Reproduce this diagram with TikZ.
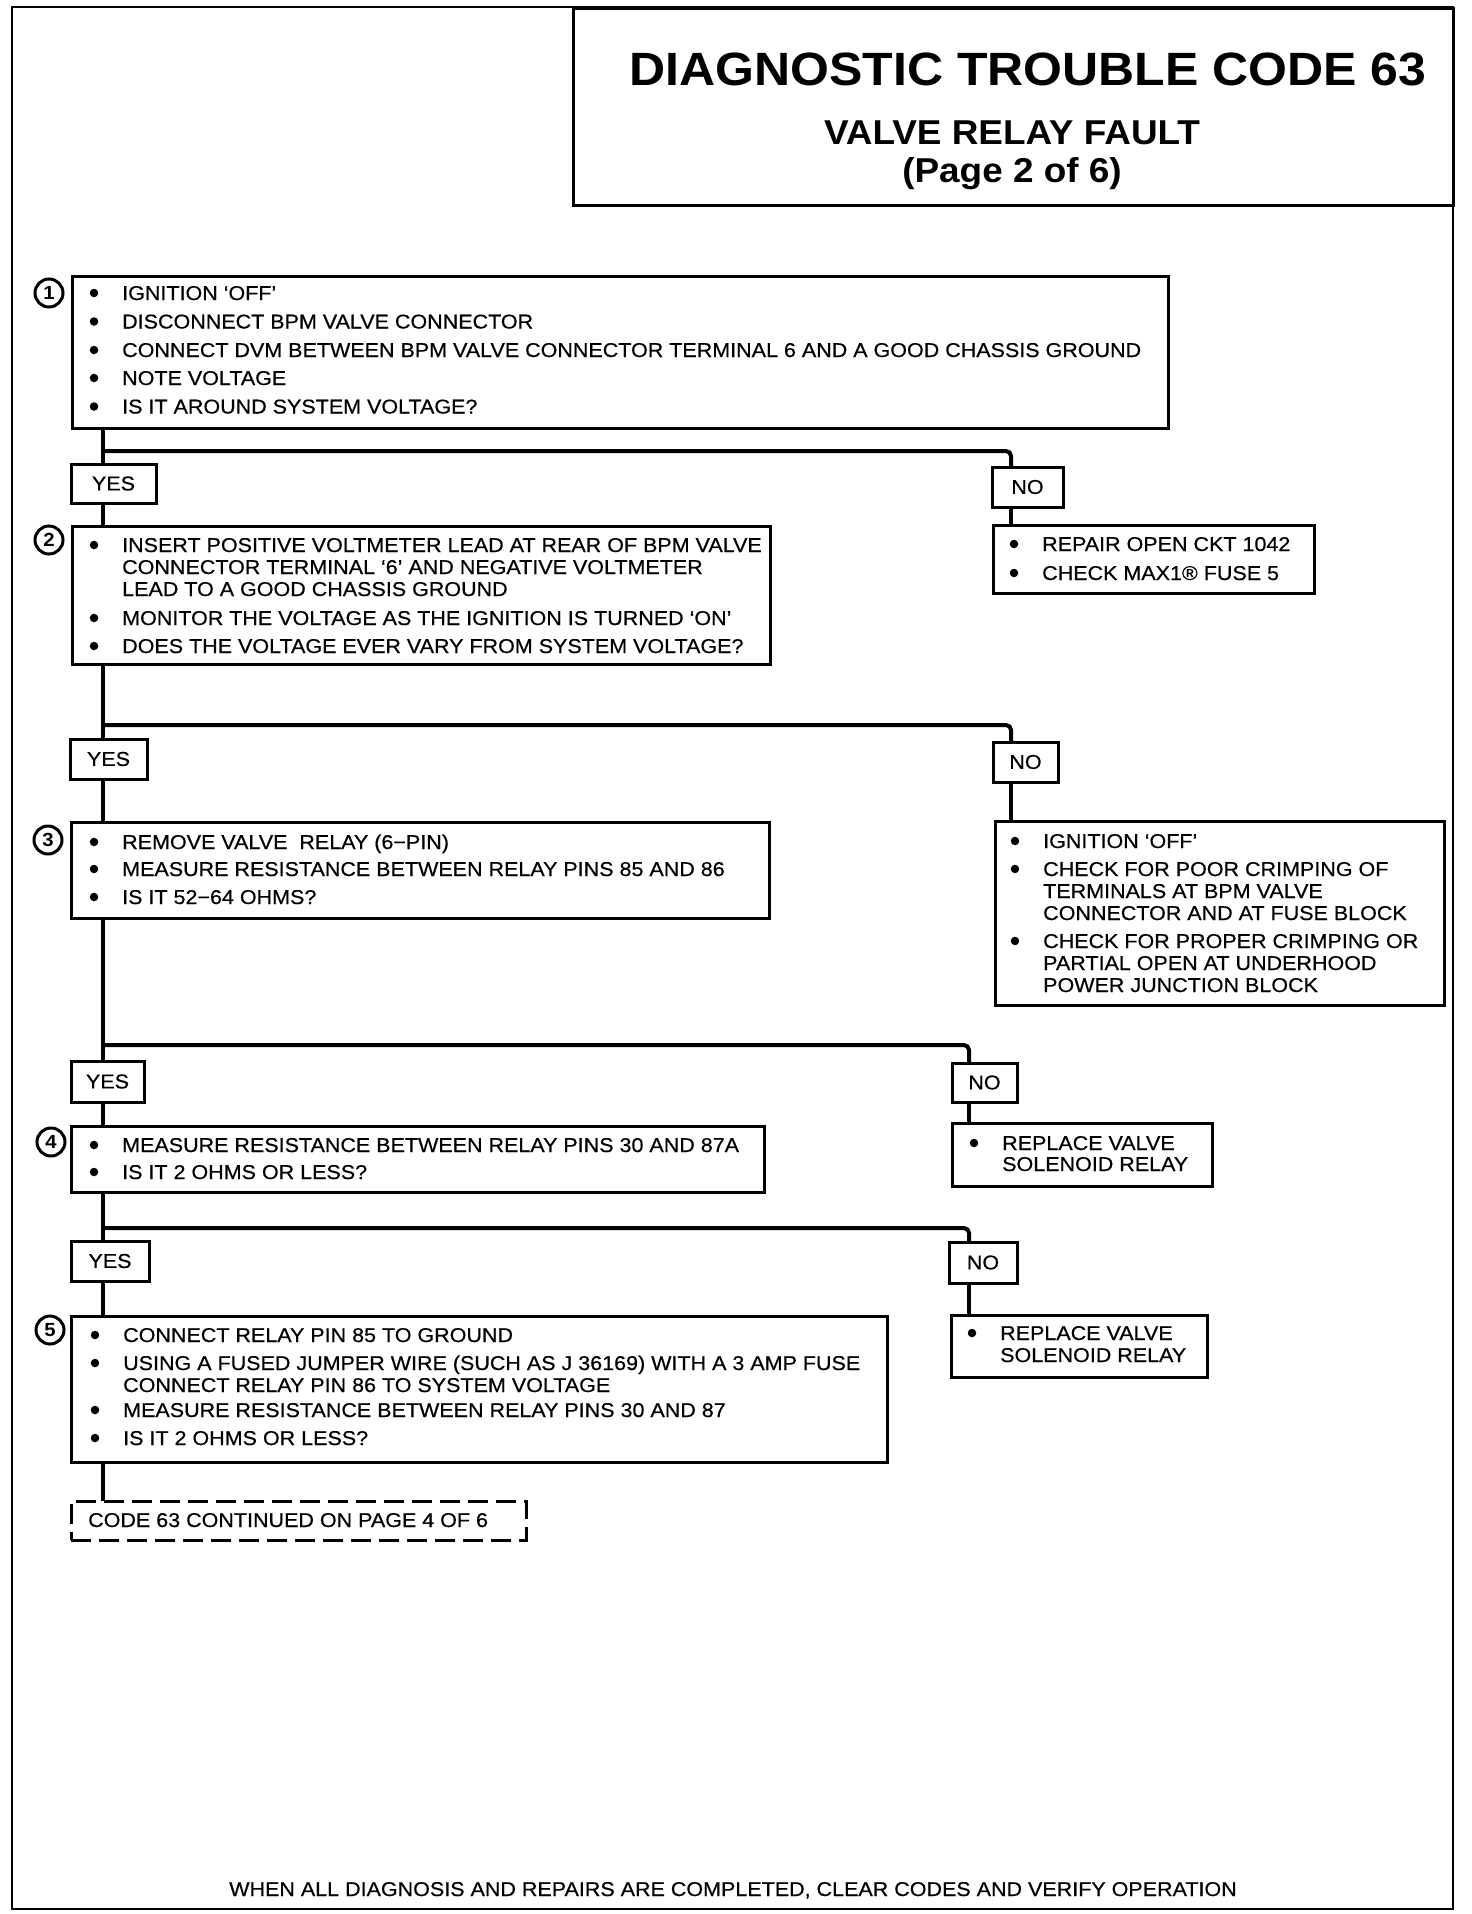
\documentclass[tikz,border=0pt]{standalone}
\usepackage{fontspec}
\setmainfont{Liberation Sans}[FakeStretch=1.07]
\newfontfamily\bodyf{Liberation Sans}[FakeStretch=1.075, FakeBold=0.5]
\tikzset{
  box/.style={draw, line width=3pt, fill=white, inner sep=0pt, outer sep=0pt, anchor=north west, font=\bodyf\fontsize{20}{22}\selectfont},
  dbox/.style={box, dash pattern=on 20pt off 8pt},
  frm/.style={draw, line width=2.5pt, inner sep=0pt, outer sep=0pt, anchor=north west},
  txt/.style={inner sep=0pt, anchor=base west, font=\bodyf\fontsize{20}{22}\selectfont},
  ttl/.style={inner sep=0pt, anchor=base, font=\bfseries\fontsize{46.7}{50}\selectfont},
  sub/.style={inner sep=0pt, anchor=base, font=\bfseries\fontsize{34.5}{38}\selectfont},
  bul/.style={circle, fill=black, inner sep=0pt, minimum size=8.5pt},
  num/.style={circle, draw, fill=white, line width=3pt, inner sep=0pt, minimum size=28pt, font=\bfseries\fontsize{19}{19}\selectfont},
  wire/.style={line width=4pt},
}
\newcommand\bx[7][box]{\node[#1, minimum width={(#5)-(#3)}, minimum height={(#6)-(#4)}] (#2) at (#3,#4) {#7};}
\newcommand\itm[4]{\node[bul] (#1b) at (#2-28,#3) {}; \node[txt] (#1) at (#2,#3+7) {#4};}
\newcommand\cnt[4]{\node[txt] (#1) at (#2,#3+7) {#4};}
\begin{document}
\begin{tikzpicture}[x=1pt,y=-1pt]
\useasboundingbox (0,0) rectangle (1472,1914);
% frame and title
\bx[frm]{frame}{12}{7}{1453}{1909}{}
\bx{tbox}{573}{8}{1453}{205}{}
\node[ttl] (title) at (1028,85) {DIAGNOSTIC TROUBLE CODE 63};
\node[sub] (sub1) at (1012,144) {VALVE RELAY FAULT};
\node[sub] (sub2) at (1012,182) {(Page 2 of 6)};
% columns of the connectors
\coordinate (T) at (103,0);
\coordinate (NA) at (1011,0);
\coordinate (NB) at (969,0);
% main boxes
\bx{b1}{72}{276}{1168}{428}{}
\bx{b2}{72}{526}{770}{664}{}
\bx{b3}{71}{822}{769}{918}{}
\bx{b4}{71}{1126}{764}{1192}{}
\bx{b5}{71}{1316}{887}{1462}{}
\bx[dbox]{cont}{71}{1501}{526}{1540}{}
% yes / no labels
\bx{y1}{71}{464}{156}{503}{YES}
\bx{y2}{70}{739}{147}{779}{YES}
\bx{y3}{71}{1061}{144}{1102}{YES}
\bx{y4}{71}{1241}{149}{1281}{YES}
\bx{n1}{992}{467}{1063}{507}{NO}
\bx{n2}{993}{742}{1058}{782}{NO}
\bx{n3}{952}{1063}{1017}{1102}{NO}
\bx{n4}{949}{1242}{1017}{1283}{NO}
% result boxes
\bx{r1}{993}{525}{1314}{593}{}
\bx{r2}{995}{821}{1444}{1005}{}
\bx{r3}{952}{1123}{1212}{1186}{}
\bx{r4}{951}{1315}{1207}{1377}{}
% junctions
\coordinate (J1) at (103,451);
\coordinate (J2) at (103,725);
\coordinate (J3) at (103,1045);
\coordinate (J4) at (103,1228);
% trunk
\draw[wire] (b1.south -| T) -- (y1.north -| T);
\draw[wire] (y1.south -| T) -- (b2.north -| T);
\draw[wire] (b2.south -| T) -- (y2.north -| T);
\draw[wire] (y2.south -| T) -- (b3.north -| T);
\draw[wire] (b3.south -| T) -- (y3.north -| T);
\draw[wire] (y3.south -| T) -- (b4.north -| T);
\draw[wire] (b4.south -| T) -- (y4.north -| T);
\draw[wire] (y4.south -| T) -- (b5.north -| T);
\draw[wire, line width=3.5pt] (b5.south -| T) -- (cont.north -| T);
% branches to NO
\draw[wire, rounded corners=5pt] (J1) -| (n1.north -| NA);
\draw[wire] (n1.south -| NA) -- (r1.north -| NA);
\draw[wire, rounded corners=5pt] (J2) -| (n2.north -| NA);
\draw[wire] (n2.south -| NA) -- (r2.north -| NA);
\draw[wire, rounded corners=5pt] (J3) -| (n3.north -| NB);
\draw[wire] (n3.south -| NB) -- (r3.north -| NB);
\draw[wire, rounded corners=5pt] (J4) -| (n4.north -| NB);
\draw[wire] (n4.south -| NB) -- (r4.north -| NB);
% step numbers
\node[num] (c1) at (49,293) {1};
\node[num] (c2) at (49,540) {2};
\node[num] (c3) at (48,840) {3};
\node[num] (c4) at (51,1142) {4};
\node[num] (c5) at (50,1330) {5};
% box 1
\itm{t1a}{122}{293}{IGNITION ‘OFF’}
\itm{t1b}{122}{321.5}{DISCONNECT BPM VALVE CONNECTOR}
\itm{t1c}{122}{350}{CONNECT DVM BETWEEN BPM VALVE CONNECTOR TERMINAL 6 AND A GOOD CHASSIS GROUND}
\itm{t1d}{122}{378}{NOTE VOLTAGE}
\itm{t1e}{122}{406.5}{IS IT AROUND SYSTEM VOLTAGE?}
% result 1
\itm{s1a}{1042}{544}{REPAIR OPEN CKT 1042}
\itm{s1b}{1042}{573}{CHECK MAX1® FUSE 5}
% box 2
\itm{t2a}{122}{545}{INSERT POSITIVE VOLTMETER LEAD AT REAR OF BPM VALVE}
\cnt{t2b}{122}{567}{CONNECTOR TERMINAL ‘6’ AND NEGATIVE VOLTMETER}
\cnt{t2c}{122}{589}{LEAD TO A GOOD CHASSIS GROUND}
\itm{t2d}{122}{618}{MONITOR THE VOLTAGE AS THE IGNITION IS TURNED ‘ON’}
\itm{t2e}{122}{646}{DOES THE VOLTAGE EVER VARY FROM SYSTEM VOLTAGE?}
% result 2
\itm{s2a}{1043}{841}{IGNITION ‘OFF’}
\itm{s2b}{1043}{869}{CHECK FOR POOR CRIMPING OF}
\cnt{s2c}{1043}{891}{TERMINALS AT BPM VALVE}
\cnt{s2d}{1043}{913}{CONNECTOR AND AT FUSE BLOCK}
\itm{s2e}{1043}{941}{CHECK FOR PROPER CRIMPING OR}
\cnt{s2f}{1043}{963}{PARTIAL OPEN AT UNDERHOOD}
\cnt{s2g}{1043}{985}{POWER JUNCTION BLOCK}
% box 3
\itm{t3a}{122}{842}{REMOVE VALVE \ RELAY (6−PIN)}
\itm{t3b}{122}{869}{MEASURE RESISTANCE BETWEEN RELAY PINS 85 AND 86}
\itm{t3c}{122}{897}{IS IT 52−64 OHMS?}
% result 3
\itm{s3a}{1002}{1143}{REPLACE VALVE}
\cnt{s3b}{1002}{1164}{SOLENOID RELAY}
% box 4
\itm{t4a}{122}{1145}{MEASURE RESISTANCE BETWEEN RELAY PINS 30 AND 87A}
\itm{t4b}{122}{1172}{IS IT 2 OHMS OR LESS?}
% result 4
\itm{s4a}{1000}{1333}{REPLACE VALVE}
\cnt{s4b}{1000}{1355}{SOLENOID RELAY}
% box 5
\itm{t5a}{123}{1335}{CONNECT RELAY PIN 85 TO GROUND}
\itm{t5b}{123}{1363}{USING A FUSED JUMPER WIRE (SUCH AS J 36169) WITH A 3 AMP FUSE}
\cnt{t5c}{123}{1385}{CONNECT RELAY PIN 86 TO SYSTEM VOLTAGE}
\itm{t5d}{123}{1410}{MEASURE RESISTANCE BETWEEN RELAY PINS 30 AND 87}
\itm{t5e}{123}{1438}{IS IT 2 OHMS OR LESS?}
% continuation
\cnt{conttxt}{88}{1520}{CODE 63 CONTINUED ON PAGE 4 OF 6}
% footer
\node[txt, anchor=base] (foot) at (733,1896) {WHEN ALL DIAGNOSIS AND REPAIRS ARE COMPLETED, CLEAR CODES AND VERIFY OPERATION};
\end{tikzpicture}
\end{document}
